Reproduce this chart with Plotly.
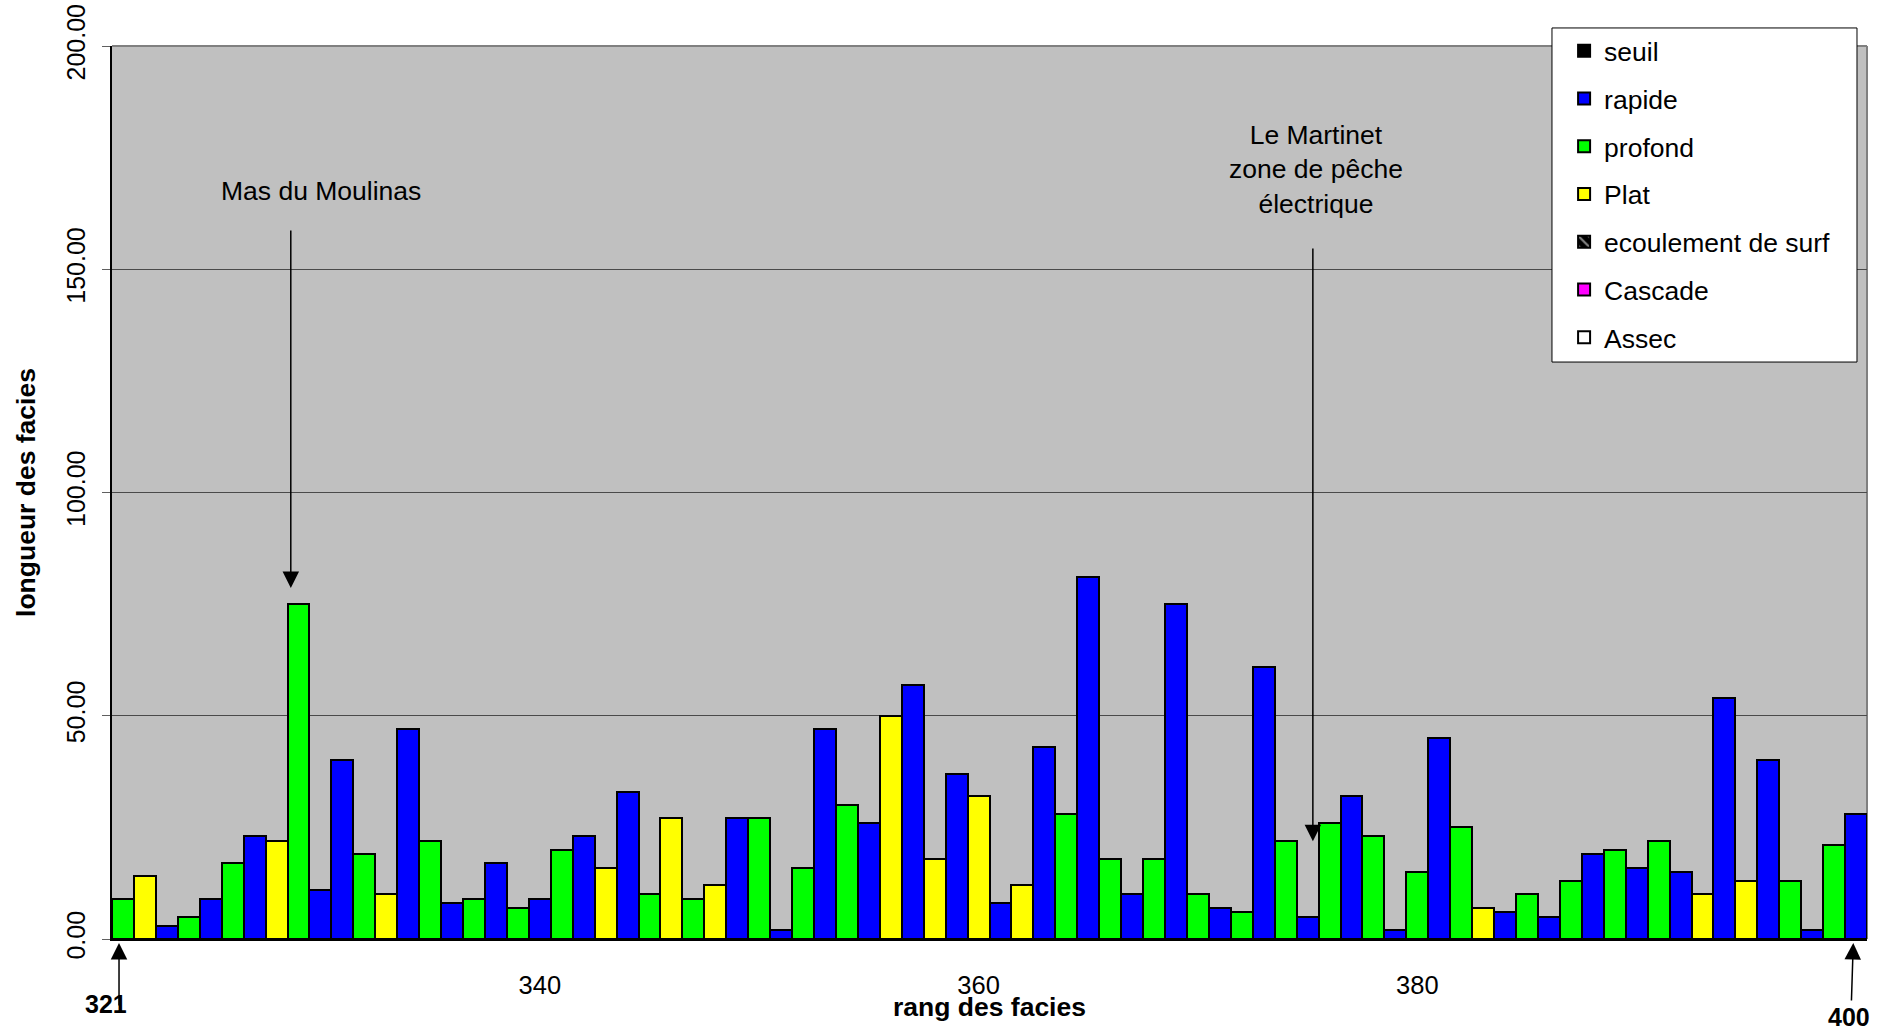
import plotly.graph_objects as go

# ---------------- data ----------------
ranks = list(range(321, 401))
facies = [
    "profond", "Plat", "rapide", "profond", "rapide", "profond", "rapide", "Plat", "profond", "rapide",
    "rapide", "profond", "Plat", "rapide", "profond", "rapide", "profond", "rapide", "profond", "rapide",
    "profond", "rapide", "Plat", "rapide", "profond", "Plat", "profond", "Plat", "rapide", "profond",
    "rapide", "profond", "rapide", "profond", "rapide", "Plat", "rapide", "Plat", "rapide", "Plat",
    "rapide", "Plat", "rapide", "profond", "rapide", "profond", "rapide", "profond", "rapide", "profond",
    "rapide", "profond", "rapide", "profond", "rapide", "profond", "rapide", "profond", "rapide", "profond",
    "rapide", "profond", "Plat", "rapide", "profond", "rapide", "profond", "rapide", "profond", "rapide",
    "profond", "rapide", "Plat", "rapide", "Plat", "rapide", "profond", "rapide", "profond", "rapide",
]
lengths = [
    9, 14, 3, 5, 9, 17, 23, 22, 75, 11,
    40, 19, 10, 47, 22, 8, 9, 17, 7, 9,
    20, 23, 16, 33, 10, 27, 9, 12, 27, 27,
    2, 16, 47, 30, 26, 50, 57, 18, 37, 32,
    8, 12, 43, 28, 81, 18, 10, 18, 75, 10,
    7, 6, 61, 22, 5, 26, 32, 23, 2, 15,
    45, 25, 7, 6, 10, 5, 13, 19, 20, 16,
    22, 15, 10, 54, 13, 40, 13, 2, 21, 28,
]
legend_names = ["seuil", "rapide", "profond", "Plat", "ecoulement de surf", "Cascade", "Assec"]
x_tick_values = [340, 360, 380]
y_tick_values = [0, 50, 100, 150, 200]

moulinas_text = "Mas du Moulinas"
martinet_text = "Le Martinet<br>zone de pêche<br>électrique"

FONT = "Liberation Sans, Arial, sans-serif"
colors = {
    "seuil": "#000000",
    "rapide": "#0000FF",
    "profond": "#00FF00",
    "Plat": "#FFFF00",
    "ecoulement de surf": "#000000",
    "Cascade": "#FF00FF",
    "Assec": "#FFFFFF",
}

fig = go.Figure()
for name in legend_names:
    xs = [r for r, f in zip(ranks, facies) if f == name]
    ys = [v for v, f in zip(lengths, facies) if f == name]
    if not xs:  # category absent in this reach: keep a legend entry only
        xs, ys = [ranks[0]], [None]
    marker = dict(color=colors[name], line=dict(color="black", width=2))
    if name == "ecoulement de surf":
        marker["pattern"] = dict(shape="\\", fgcolor="white", bgcolor="black", size=9, solidity=0.3)
    fig.add_trace(go.Bar(
        x=xs, y=ys, name=name, width=1, marker=marker,
        legendgroup=name,
    ))

fig.update_layout(
    width=1892, height=1032,
    margin=dict(l=112, r=25, t=46, b=93, autoexpand=False),
    paper_bgcolor="white",
    plot_bgcolor="#C0C0C0",
    barmode="overlay",
    bargap=0,
    font=dict(family=FONT, size=25.5, color="black"),
    showlegend=True,
    legend=dict(
        x=0.8274, y=1.0213, xanchor="left", yanchor="top",
        bgcolor="rgba(0,0,0,0)", borderwidth=0,
        font=dict(family=FONT, size=26.5, color="black"),
        traceorder="grouped", tracegroupgap=10.3,
    ),
    xaxis=dict(
        range=[320.5, 400.5],
        tickmode="array", tickvals=x_tick_values,
        ticks="", showgrid=False, zeroline=False,
        showline=True, linecolor="black", linewidth=2,
        ticklabelstandoff=22,
        tickfont=dict(size=25.5),
        automargin=False,
    ),
    yaxis=dict(
        range=[0, 200],
        tickmode="array", tickvals=y_tick_values, tickformat=".2f",
        tickangle=-90,
        ticks="outside", ticklen=8, tickcolor="#606060", tickwidth=1,
        ticklabelstandoff=7, ticklabeloverflow="allow",
        showgrid=True, gridcolor="#4a4a4a", gridwidth=1,
        zeroline=False,
        showline=True, linecolor="black", linewidth=2,
        tickfont=dict(size=25),
        title=dict(text="<b>longueur des facies</b>", font=dict(size=26.5), standoff=19),
        automargin=False,
    ),
)

# plot area top & right borders (gray)
fig.add_shape(type="line", xref="paper", yref="paper", x0=0, x1=1, y0=1, y1=1,
              line=dict(color="#808080", width=2), layer="below")
fig.add_shape(type="line", xref="paper", yref="paper", x0=1, x1=1, y0=0, y1=1,
              line=dict(color="#808080", width=2), layer="below")
# legend box
fig.add_shape(type="rect", xref="paper", yref="paper", x0=0.8205, x1=0.9943, y0=0.6461, y1=1.0202,
              line=dict(color="black", width=1), fillcolor="white", layer="above")

# x axis title
fig.add_annotation(x=0.5, y=-0.076, xref="paper", yref="paper", yanchor="middle",
                   text="<b>rang des facies</b>", showarrow=False, font=dict(size=26.5))

# place-name annotations
fig.add_annotation(x=330.03, y=167.5, xref="x", yref="y", text=moulinas_text,
                   showarrow=False, font=dict(size=26.5))
fig.add_annotation(x=328.65, y=78.6, ax=328.65, ay=159, xref="x", yref="y",
                   axref="x", ayref="y", text="", showarrow=True,
                   arrowhead=2, arrowsize=2.2, arrowwidth=1.5, arrowcolor="black")
fig.add_annotation(x=375.38, y=172.4, xref="x", yref="y", text=martinet_text,
                   showarrow=False, font=dict(size=26.5))
fig.add_annotation(x=375.24, y=21.9, ax=375.24, ay=155, xref="x", yref="y",
                   axref="x", ayref="y", text="", showarrow=True,
                   arrowhead=2, arrowsize=2.2, arrowwidth=1.5, arrowcolor="black")

# first / last rank markers
fig.add_annotation(x=320.82, y=0, xref="x", yref="y", ax=0, ay=68, text="",
                   showarrow=True, arrowhead=2, arrowsize=2.2, arrowwidth=1.5,
                   arrowcolor="black", standoff=4)
fig.add_annotation(x=-0.0034, y=-0.0728, xref="paper", yref="paper",
                   xanchor="center", yanchor="middle",
                   text="<b>321</b>", showarrow=False, font=dict(size=25))
fig.add_annotation(x=399.88, y=0, xref="x", yref="y", ax=-2, ay=63, text="",
                   showarrow=True, arrowhead=2, arrowsize=2.2, arrowwidth=1.5,
                   arrowcolor="black", standoff=4)
fig.add_annotation(x=0.9897, y=-0.0875, xref="paper", yref="paper",
                   xanchor="center", yanchor="middle",
                   text="<b>400</b>", showarrow=False, font=dict(size=25))

fig.write_html("out.html", config={"displayModeBar": False},
               post_script="document.body.style.margin='0';")
